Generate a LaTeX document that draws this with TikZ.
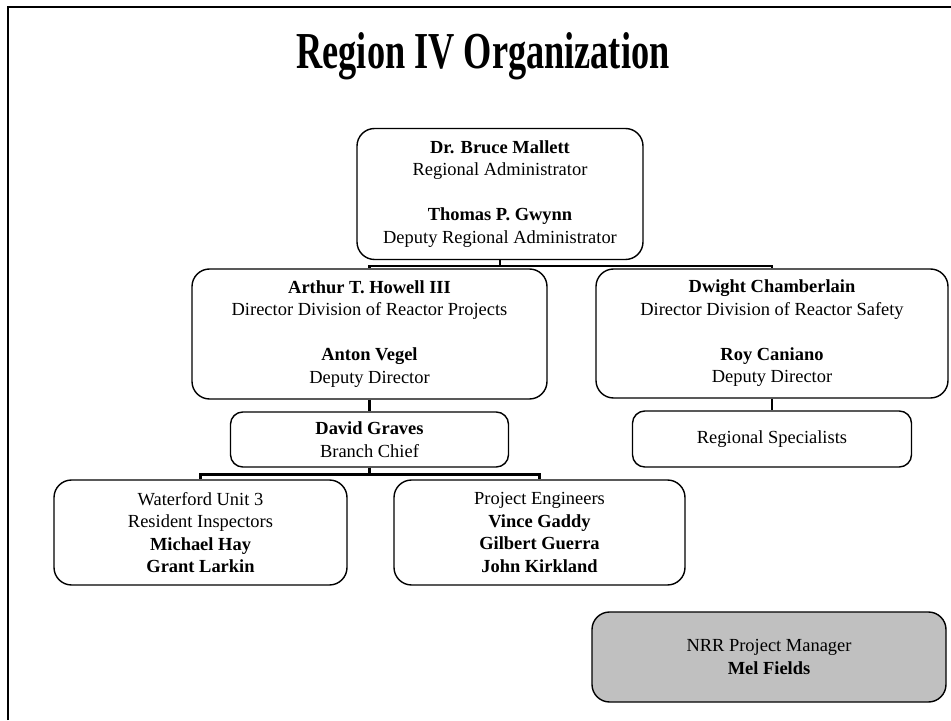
\documentclass[tikz,border=0pt]{standalone}
\usepackage{fontspec}
\setmainfont{Liberation Serif}
\usepackage{tikz}
\definecolor{nrrGray}{RGB}{192,192,192}
\newcommand{\orgfont}{\fontsize{10.5}{12.8}\selectfont}

\tikzset{
  orgbox/.style={draw, line width=0.8pt, rounded corners=10pt, align=center,
    inner sep=0pt, font=\orgfont},
  unitbox/.style={orgbox, rounded corners=7pt},
  link/.style={line width=1.4pt}
}

\begin{document}
\begin{tikzpicture}
\useasboundingbox (0,0) rectangle (19.02,14.4);

% Page frame
\draw[line width=1.4pt] (0.16,0) -- (0.16,14.26) -- (19.02,14.26);

% Title
\node[anchor=base] (title) at (9.66,13.02)
  {\scalebox{0.7}[1]{\fontsize{29.5}{34}\selectfont\bfseries Region IV Organization}};

% Boxes
\node[orgbox, minimum width=5.72cm, minimum height=2.62cm] (mallett) at (10.0,10.52)
  {\textbf{Dr. Bruce Mallett}\\ Regional Administrator\\[12.8pt]
   \textbf{Thomas P. Gwynn}\\ Deputy Regional Administrator};
\node[orgbox, minimum width=7.1cm, minimum height=2.6cm] (howell) at (7.39,7.72)
  {\textbf{Arthur T. Howell III}\\ Director Division of Reactor Projects\\[12.8pt]
   \textbf{Anton Vegel}\\ Deputy Director};
\node[orgbox, minimum width=7.04cm, minimum height=2.58cm] (chamberlain) at (15.44,7.73)
  {\textbf{Dwight Chamberlain}\\ Director Division of Reactor Safety\\[12.8pt]
   \textbf{Roy Caniano}\\ Deputy Director};
\node[unitbox, minimum width=5.56cm, minimum height=1.1cm] (graves) at (7.39,5.61)
  {\textbf{David Graves}\\ Branch Chief};
\node[unitbox, minimum width=5.58cm, minimum height=1.12cm] (specialists) at (15.44,5.62)
  {Regional Specialists};
\node[orgbox, minimum width=5.86cm, minimum height=2.1cm] (waterford) at (4.01,3.75)
  {Waterford Unit 3\\ Resident Inspectors\\ \textbf{Michael Hay}\\ \textbf{Grant Larkin}};
\node[orgbox, minimum width=5.82cm, minimum height=2.1cm] (engineers) at (10.79,3.75)
  {Project Engineers\\ \textbf{Vince Gaddy}\\ \textbf{Gilbert Guerra}\\ \textbf{John Kirkland}};
\node[orgbox, fill=nrrGray, minimum width=7.08cm, minimum height=1.8cm] (nrr) at (15.38,1.26)
  {NRR Project Manager\\ \textbf{Mel Fields}};

% Connectors
\draw[link] (mallett.south) -- ++(0,-0.12) -| (howell.north);
\draw[link] (mallett.south) -- ++(0,-0.12) -| (chamberlain.north);
\draw[link] (howell.south) -- (graves.north);
\draw[link] (chamberlain.south) -- (specialists.north);
\draw[link] (graves.south) -- ++(0,-0.14) -| (waterford.north);
\draw[link] (graves.south) -- ++(0,-0.14) -| (engineers.north);
\end{tikzpicture}
\end{document}
